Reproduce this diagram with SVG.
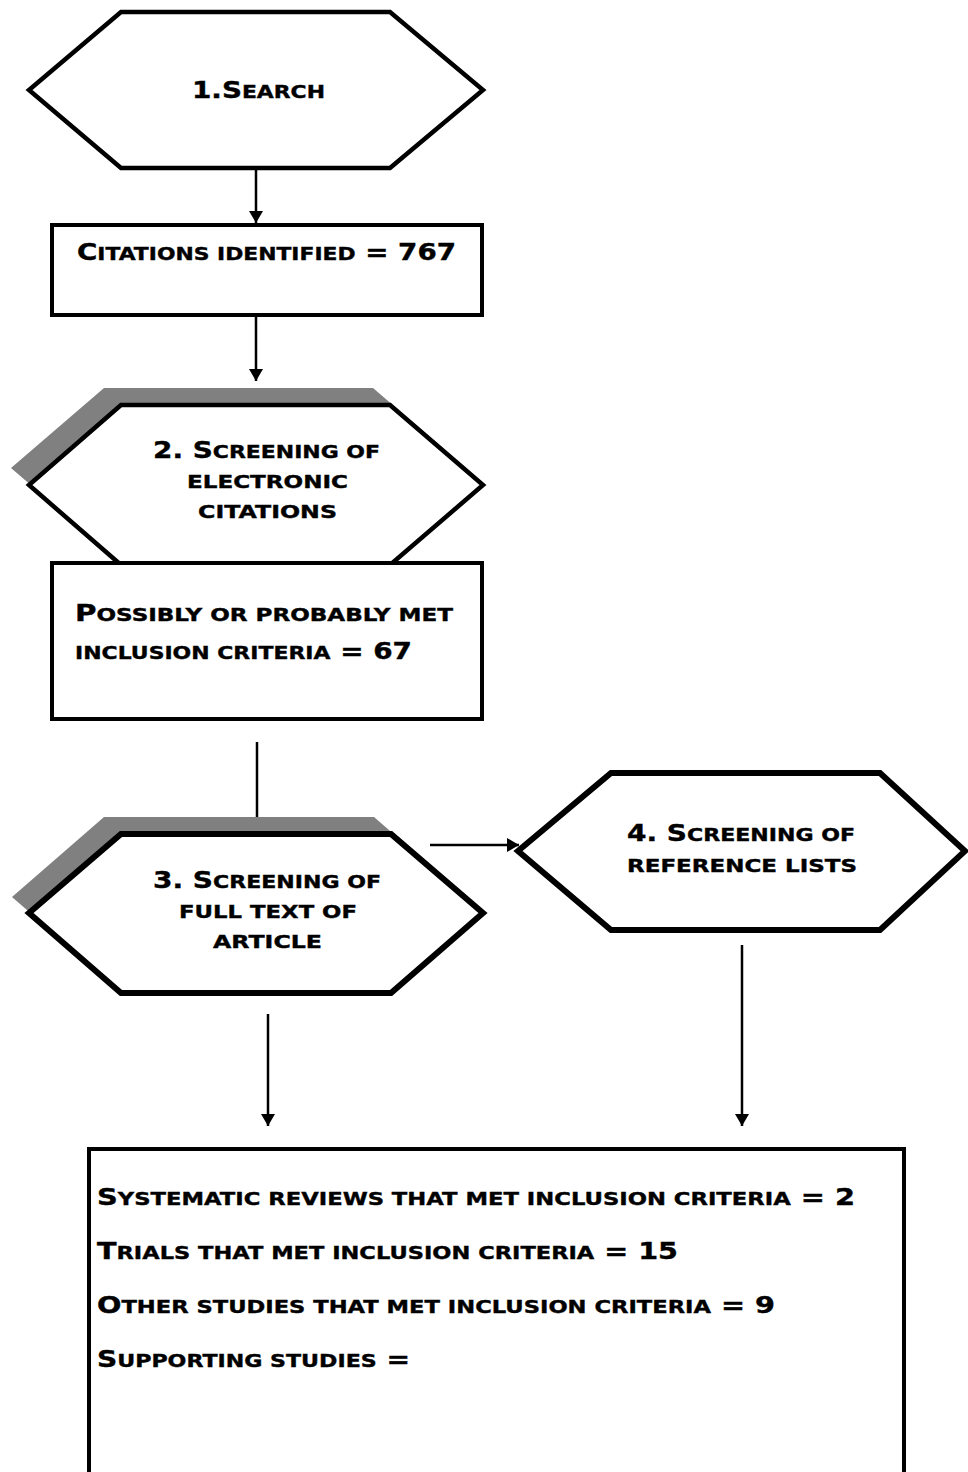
<svg xmlns="http://www.w3.org/2000/svg" width="968" height="1472" viewBox="0 0 968 1472">
<style>
.t{font-family:"DejaVu Sans","Liberation Sans",Arial,sans-serif;font-weight:bold;font-size:23.5px;fill:#000;stroke:#000;stroke-width:0.4}
.c{text-anchor:middle}
.s{font-size:18.5px;text-transform:uppercase}
.hex{fill:#fff;stroke:#000;stroke-width:4.5;stroke-linejoin:miter}
.hex2{fill:#fff;stroke:#000;stroke-width:6;stroke-linejoin:miter}
.box{fill:#fff;stroke:#000;stroke-width:4}
.sh{fill:#808080}
.ln{stroke:#000;stroke-width:2.5;fill:none}
</style>
<defs>
<marker id="ah" markerWidth="12" markerHeight="14" refX="12" refY="7" orient="auto" markerUnits="userSpaceOnUse" viewBox="0 0 12 14">
<path d="M0,0 L12,7 L0,14 Z" fill="#000"/>
</marker>
</defs>
<rect width="968" height="1472" fill="#fff"/>
<g id="connectors">
<line class="ln" x1="256" y1="169" x2="256" y2="223" marker-end="url(#ah)"/>
<line class="ln" x1="256" y1="316" x2="256" y2="381" marker-end="url(#ah)"/>
<line class="ln" x1="257" y1="742" x2="257" y2="831" marker-end="url(#ah)"/>
<line class="ln" x1="430" y1="845" x2="519" y2="845" marker-end="url(#ah)"/>
<line class="ln" x1="742" y1="945" x2="742" y2="1126" marker-end="url(#ah)"/>
<line class="ln" x1="268" y1="1014" x2="268" y2="1126" marker-end="url(#ah)"/>
</g>
<g id="node-search">
<polygon class="hex" points="121,12 390,12 483,90 390,168 121,168 29,90"/>
<text class="t" x="192" y="98" textLength="133" lengthAdjust="spacingAndGlyphs">1.S<tspan class="s">earch</tspan></text>
</g>
<g id="node-citations">
<rect class="box" x="52" y="225" width="430" height="90"/>
<text class="t" x="77" y="260" textLength="379" lengthAdjust="spacingAndGlyphs">C<tspan class="s">itations identified</tspan> = 767</text>
</g>
<g id="node-screening2">
<polygon class="sh" points="104,388 373,388 466,468 373,548 104,548 11,468"/>
<polygon class="hex" points="121,405 390,405 483,485 390,565 121,565 29,485"/>
<text class="t" x="153" y="458" textLength="227" lengthAdjust="spacingAndGlyphs">2. S<tspan class="s">creening of</tspan></text>
<text class="t s" x="187" y="488" textLength="161" lengthAdjust="spacingAndGlyphs">electronic</text>
<text class="t s" x="198" y="518" textLength="139" lengthAdjust="spacingAndGlyphs">citations</text>
</g>
<g id="node-possibly">
<rect class="box" x="52" y="563" width="430" height="156"/>
<text class="t" x="75" y="621" textLength="378" lengthAdjust="spacingAndGlyphs">P<tspan class="s">ossibly or probably met</tspan></text>
<text class="t" x="75" y="659" textLength="337" lengthAdjust="spacingAndGlyphs"><tspan class="s">inclusion criteria</tspan> = 67</text>
</g>
<g id="node-screening3">
<polygon class="sh" points="104,817 374,817 466,897 374,977 104,977 12,897"/>
<polygon class="hex2" points="121,834 391,834 483,913 391,993 121,993 29,913"/>
<text class="t" x="153" y="888" textLength="228" lengthAdjust="spacingAndGlyphs">3. S<tspan class="s">creening of</tspan></text>
<text class="t s" x="179" y="918" textLength="178" lengthAdjust="spacingAndGlyphs">full text of</text>
<text class="t s" x="213" y="948" textLength="109" lengthAdjust="spacingAndGlyphs">article</text>
</g>
<g id="node-screening4">
<polygon class="hex2" points="611,773 880,773 965,851 880,930 611,930 518,851"/>
<text class="t" x="627" y="841" textLength="228" lengthAdjust="spacingAndGlyphs">4. S<tspan class="s">creening of</tspan></text>
<text class="t s" x="627" y="872" textLength="230" lengthAdjust="spacingAndGlyphs">reference lists</text>
</g>
<g id="node-results">
<rect class="box" x="89" y="1149" width="815" height="340"/>
<text class="t" x="97" y="1205" textLength="758" lengthAdjust="spacingAndGlyphs">S<tspan class="s">ystematic reviews that met inclusion criteria</tspan> = 2</text>
<text class="t" x="97" y="1259" textLength="581" lengthAdjust="spacingAndGlyphs">T<tspan class="s">rials that met inclusion criteria</tspan> = 15</text>
<text class="t" x="97" y="1313" textLength="678" lengthAdjust="spacingAndGlyphs">O<tspan class="s">ther studies that met inclusion criteria</tspan> = 9</text>
<text class="t" x="97" y="1367" textLength="313" lengthAdjust="spacingAndGlyphs">S<tspan class="s">upporting studies</tspan> =</text>
</g>
</svg>
